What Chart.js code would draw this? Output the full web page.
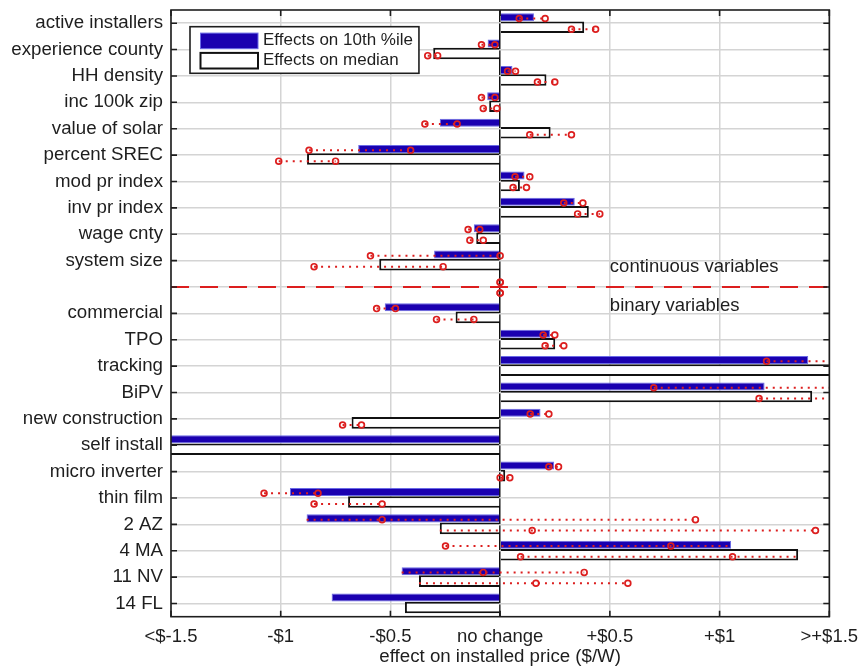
<!DOCTYPE html>
<html>
<head>
<meta charset="utf-8">
<script src="https://cdn.jsdelivr.net/npm/chart.js@4"></script>
<style>
  html, body { margin:0; padding:0; background:#fff; }
  #wrap { width:859px; height:667px; }
</style>
</head>
<body>
<div id="wrap"><canvas id="chart"></canvas></div>
<script>
// rows, top to bottom ('' is the spacer between the two groups)
const rowLabels = ['active installers','experience county','HH density','inc 100k zip','value of solar',
  'percent SREC','mod pr index','inv pr index','wage cnty','system size','',
  'commercial','TPO','tracking','BiPV','new construction','self install','micro inverter',
  'thin film','2 AZ','4 MA','11 NV','14 FL'];

const xTickLabels = ['<$-1.5','-$1','-$0.5','no change','+$0.5','+$1','>+$1.5'];
const seriesNames = ['Effects on 10th %ile','Effects on median'];
const groupNotes = ['continuous variables','binary variables'];
const splitRow = 10;

// effects on 10th percentile, with interval ends
const p10   = [0.154,-0.057,0.056,-0.059,-0.275,-0.647,0.111,0.340,-0.120,-0.301,null,
  -0.526,0.227,1.404,1.205,0.184,-1.6,0.246,-0.958,-0.882,1.052,-0.449,-0.768];
const p10Lo = [0.087,-0.085,0.034,-0.085,-0.343,-0.871,0.068,0.290,-0.146,-0.591,0,
  -0.563,0.196,1.214,0.700,0.137,null,0.222,-1.076,-0.538,-0.249,-0.077,null];
const p10Hi = [0.205,-0.024,0.070,-0.024,-0.196,-0.408,0.135,0.377,-0.093,0.000,0,
  -0.477,0.249,1.7,1.7,0.222,null,0.266,-0.830,0.890,0.778,0.383,null];

// effects on median, with interval ends
const med   = [0.383,-0.305,0.211,-0.050,0.230,-0.880,0.090,0.404,-0.109,-0.551,null,
  -0.203,0.251,1.6,1.422,-0.677,-1.6,0.023,-0.693,-0.275,1.358,-0.370,-0.434];
const medLo = [0.325,-0.330,0.170,-0.077,0.135,-1.009,0.059,0.353,-0.138,-0.848,0,
  -0.290,0.205,null,1.180,-0.718,null,0.000,-0.848,0.146,0.093,0.163,null];
const medHi = [0.435,-0.285,0.249,-0.015,0.325,-0.750,0.120,0.454,-0.077,-0.260,0,
  -0.120,0.290,null,1.7,-0.632,null,0.044,-0.538,1.437,1.059,0.582,null];

const BLUE = '#1a00b0', RED = '#dc1e1e', GRID = '#d4d4d4', INK = '#1e1e1e';
const FONT = '"Liberation Sans", Arial, sans-serif';

// dotted span covers the interval and the bar end
function spanPts(val, lo, hi, off) {
  const pts = [];
  val.forEach((v, i) => {
    if (lo[i] == null) return;
    const a = [v, lo[i], hi[i]].filter(n => n != null);
    pts.push({x: Math.min(...a), y: i + off}, {x: Math.max(...a), y: i + off}, {x: 0, y: null});
  });
  return pts;
}
function endPts(lo, hi, off) {
  const pts = [];
  lo.forEach((l, i) => {
    if (l != null) pts.push({x: l, y: i + off});
    if (hi[i] != null) pts.push({x: hi[i], y: i + off});
  });
  return pts;
}

const ciLine = {type:'line', xAxisID:'x', yAxisID:'yErr', borderColor:RED, borderWidth:2,
  borderDash:[2,5], pointRadius:0, fill:false, order:1};
const ciDots = {type:'line', xAxisID:'x', yAxisID:'yErr', showLine:false, pointRadius:2.9,
  pointBorderWidth:1.7, pointBorderColor:RED, pointBackgroundColor:'rgba(255,255,255,0)', order:0};

const extras = {
  id:'extras',
  afterDatasetsDraw(chart) {
    const {ctx, chartArea:ca, scales} = chart;
    ctx.save();
    // notes beside the split line
    ctx.font = '18.5px ' + FONT;
    ctx.fillStyle = INK;
    ctx.textBaseline = 'middle';
    ctx.textAlign = 'left';
    const nx = scales.x.getPixelForValue(0.5);
    ctx.fillText(groupNotes[0], nx, scales.yErr.getPixelForValue(splitRow - 0.76));
    ctx.fillText(groupNotes[1], nx, scales.yErr.getPixelForValue(splitRow + 0.71));

    // legend box
    const ds = chart.data.datasets;
    ctx.font = '17px ' + FONT;
    const tw = Math.max(...seriesNames.map(s => ctx.measureText(s).width));
    const lx = ca.left + 19, ly = ca.top + 16.7, lw = 10 + 58 + 5 + tw + 6, lh = 46.6;
    ctx.fillStyle = '#fff';
    ctx.fillRect(lx, ly, lw, lh);
    ctx.lineWidth = 1.6; ctx.strokeStyle = INK;
    ctx.strokeRect(lx, ly, lw, lh);
    [14.2, 34].forEach((dy, k) => {
      const cy = ly + dy;
      ctx.fillStyle = ds[k].backgroundColor;
      ctx.fillRect(lx + 10.5, cy - 7.8, 57.5, 15.6);
      ctx.lineWidth = k ? 2 : 1;
      ctx.strokeStyle = ds[k].borderColor;
      ctx.strokeRect(lx + 10.5, cy - 7.8, 57.5, 15.6);
      ctx.fillStyle = INK;
      ctx.fillText(seriesNames[k], lx + 73, cy - 0.5);
    });
    ctx.restore();
  },
  afterDraw(chart) {
    const {ctx, chartArea:ca, scales:{x, y}} = chart;
    ctx.save();
    ctx.strokeStyle = INK; ctx.lineWidth = 1.6;
    ctx.beginPath();
    x.ticks.forEach(t => {
      const px = x.getPixelForValue(t.value);
      ctx.moveTo(px, ca.bottom); ctx.lineTo(px, ca.bottom - 6);
      ctx.moveTo(px, ca.top); ctx.lineTo(px, ca.top + 6);
    });
    y.ticks.forEach((t, i) => {
      const py = y.getPixelForTick(i);
      ctx.moveTo(ca.left, py); ctx.lineTo(ca.left + 6, py);
      ctx.moveTo(ca.right, py); ctx.lineTo(ca.right - 6, py);
    });
    ctx.stroke();
    ctx.strokeRect(ca.left, ca.top, ca.right - ca.left, ca.bottom - ca.top);
    ctx.restore();
  }
};

Chart.defaults.font.family = FONT;
Chart.defaults.font.size = 18.5;
Chart.defaults.color = INK;

new Chart(document.getElementById('chart'), {
  type:'bar',
  data:{
    labels: rowLabels,
    datasets:[
      {label:seriesNames[0], data:p10, indexAxis:'y', xAxisID:'x', yAxisID:'y',
       backgroundColor:BLUE, borderColor:'#6a6ae6', borderWidth:1,
       categoryPercentage:0.91, barPercentage:0.667, order:2},
      {label:seriesNames[1], data:med, indexAxis:'y', xAxisID:'x', yAxisID:'y',
       backgroundColor:'#fff', borderColor:'#111', borderWidth:2,
       categoryPercentage:0.606, barPercentage:1.45, order:2},
      {...ciLine, data: spanPts(p10, p10Lo, p10Hi, -0.18)},
      {...ciLine, data: spanPts(med, medLo, medHi, 0.23)},
      {...ciDots, data: endPts(p10Lo, p10Hi, -0.18)},
      {...ciDots, data: endPts(medLo, medHi, 0.23)},
      {type:'line', xAxisID:'x', yAxisID:'yErr', borderColor:RED, borderWidth:2,
       borderDash:[18,11], pointRadius:0, order:1,
       data:[{x:-1.5, y:splitRow}, {x:1.5, y:splitRow}]}
    ]
  },
  options:{
    responsive:true, maintainAspectRatio:false, animation:false,
    layout:{padding:{top:10, right:29.7, bottom:0, left:0}},
    plugins:{legend:{display:false}, tooltip:{enabled:false}},
    scales:{
      x:{type:'linear', axis:'x', position:'bottom', min:-1.5, max:1.5, offset:false,
         grid:{color: c => c.tick && c.tick.value === 0 ? '#111' : GRID, lineWidth:1.5,
               drawTicks:false, offset:false},
         border:{display:false},
         ticks:{stepSize:0.5, padding:9, callback:(v, i) => xTickLabels[i]},
         title:{display:true, text:'effect on installed price ($/W)', padding:{top:0, bottom:0},
                font:{size:18.7, lineHeight:1.1}},
         afterFit: s => { s.height = 50.3; s.paddingLeft = 0; s.paddingRight = 0; }},
      y:{type:'category', axis:'y', position:'left', offset:true,
         grid:{color:GRID, lineWidth:1.5, offset:false, drawTicks:false},
         border:{display:false},
         ticks:{padding:8, autoSkip:false, font:{size:18.7}},
         afterFit: s => { s.width = 171; s.paddingTop = 0; s.paddingBottom = 0; }},
      yErr:{type:'linear', axis:'y', display:false, min:-0.5, max:22.5, reverse:true}
    }
  },
  plugins:[extras]
});
</script>
</body>
</html>
